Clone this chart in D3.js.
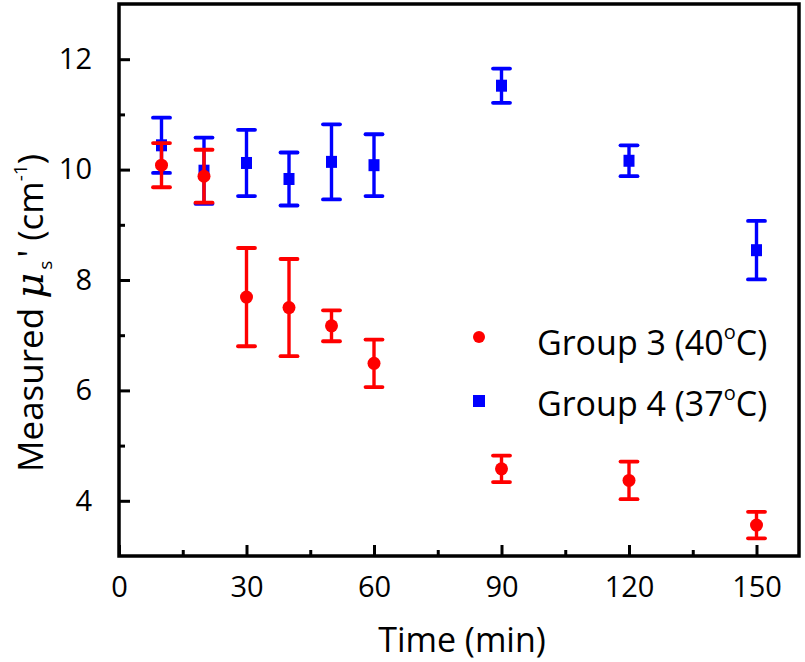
<!DOCTYPE html>
<html>
<head>
<meta charset="utf-8">
<script src="https://cdn.jsdelivr.net/npm/d3@7"></script>
<style>
  html, body { margin: 0; padding: 0; background: #fff; }
  svg { display: block; }
  text { font-family: "Open Sans", "Lato", sans-serif; fill: #000; }
</style>
</head>
<body>
<svg id="chart" width="805" height="662"></svg>
<script>
// ---- data ----
const times = [10, 20, 30, 40, 50, 60, 90, 120, 150];
const group3 = [10.08, 9.88, 7.69, 7.50, 7.17, 6.49, 4.58, 4.37, 3.56];
const group3Err = [0.40, 0.48, 0.89, 0.88, 0.28, 0.43, 0.24, 0.34, 0.24];
const group4 = [10.44, 9.98, 10.12, 9.83, 10.14, 10.08, 11.52, 10.16, 8.54];
const group4Err = [0.50, 0.60, 0.60, 0.48, 0.68, 0.56, 0.31, 0.28, 0.53];
const xTicks = [0, 30, 60, 90, 120, 150];
const xMinorTicks = [15, 45, 75, 105, 135];
const yTicks = [4, 6, 8, 10, 12];
const yMinorTicks = [5, 7, 9, 11];
const seriesNames = ["Group 3 (40", "Group 4 (37"];

// ---- layout ----
const svg = d3.select("#chart");
const L = 119, R = 799, T = 4, B = 556;
const x = d3.scaleLinear().domain([0, 160]).range([L, R]);
const y = d3.scaleLinear().domain([3, 13]).range([B, T]);

// axes (ticks inward)
const xAxis = d3.axisBottom(x).tickValues(xTicks).tickSizeInner(-11).tickSizeOuter(0).tickPadding(20);
const xMinor = d3.axisBottom(x).tickValues(xMinorTicks).tickSizeInner(-6).tickSizeOuter(0).tickFormat("");
const yAxis = d3.axisLeft(y).tickValues(yTicks).tickSizeInner(-11).tickSizeOuter(0).tickPadding(27);
const yMinor = d3.axisLeft(y).tickValues(yMinorTicks).tickSizeInner(-6).tickSizeOuter(0).tickFormat("");

function styleAxis(g) {
  g.select(".domain").remove();
  g.selectAll(".tick line").attr("stroke", "#000").attr("stroke-width", 3);
  g.selectAll(".tick text").style("font-size", "29px").attr("fill", "#000");
}
svg.append("g").attr("transform", `translate(0,${B})`).call(xAxis).call(styleAxis);
svg.append("g").attr("transform", `translate(0,${B})`).call(xMinor).call(styleAxis);
svg.append("g").attr("transform", `translate(${L},0)`).call(yAxis).call(styleAxis);
svg.append("g").attr("transform", `translate(${L},0)`).call(yMinor).call(styleAxis);

// frame
svg.append("rect").attr("x", L).attr("y", T).attr("width", R - L).attr("height", B - T)
  .attr("fill", "none").attr("stroke", "#000").attr("stroke-width", 3.5);

// error bars + markers
function drawSeries(vals, errs, color, shape) {
  const g = svg.append("g");
  const capW = 8.5;
  times.forEach((t, i) => {
    const cx = x(t), top = y(vals[i] + errs[i]), bot = y(vals[i] - errs[i]);
    g.append("line").attr("x1", cx).attr("x2", cx).attr("y1", top).attr("y2", bot)
      .attr("stroke", color).attr("stroke-width", 3.4);
    [top, bot].forEach(yy => g.append("line").attr("x1", cx - capW).attr("x2", cx + capW)
      .attr("y1", yy).attr("y2", yy).attr("stroke", color).attr("stroke-width", 3.8)
      .attr("stroke-linecap", "round"));
  });
  times.forEach((t, i) => {
    if (shape === "circle") {
      g.append("circle").attr("cx", x(t)).attr("cy", y(vals[i])).attr("r", 6.5).attr("fill", color);
    } else {
      g.append("rect").attr("x", x(t) - 5.5).attr("y", y(vals[i]) - 6).attr("width", 11).attr("height", 12).attr("fill", color);
    }
  });
}
drawSeries(group4, group4Err, "#0000ff", "square");
drawSeries(group3, group3Err, "#ff0000", "circle");

// legend
const leg = svg.append("g");
leg.append("circle").attr("cx", 479).attr("cy", 337).attr("r", 6).attr("fill", "#ff0000");
leg.append("rect").attr("x", 473).attr("y", 395).attr("width", 12).attr("height", 12).attr("fill", "#0000ff");
[355, 416].forEach((by, i) => {
  const t = leg.append("text").attr("x", 537).attr("y", by).style("font-size", "34px");
  t.append("tspan").text(seriesNames[i]);
  t.append("tspan").attr("dy", -16).style("font-size", "20px").text("o");
  t.append("tspan").attr("dy", 16).text("C)");
});

// x title
svg.append("text").attr("x", 462).attr("y", 652).attr("text-anchor", "middle")
  .style("font-size", "34px").text("Time (min)");

// y title
const yt = svg.append("text").attr("transform", "translate(43,313) rotate(-90)")
  .attr("text-anchor", "middle").style("font-size", "35px");
yt.append("tspan").text("Measured ");
yt.append("tspan").style("font-family", "'DejaVu Serif', serif").style("font-style", "italic")
  .style("font-size", "40px").text("μ");
yt.append("tspan").attr("dx", 3).attr("dy", 9).style("font-size", "19px").text("s");
yt.append("tspan").attr("dy", -9).attr("dx", -6).text(" '");
yt.append("tspan").text(" (cm");
yt.append("tspan").attr("dy", -16).style("font-size", "19px").text("-1");
yt.append("tspan").attr("dy", 16).text(")");
</script>
</body>
</html>
